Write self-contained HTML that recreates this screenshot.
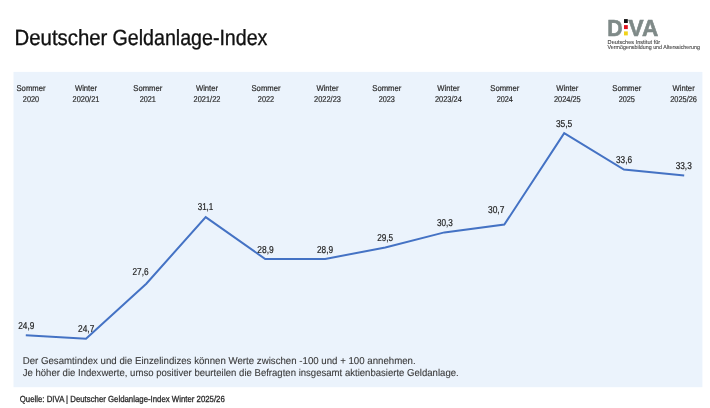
<!DOCTYPE html>
<html lang="de"><head><meta charset="utf-8"><title>Deutscher Geldanlage-Index</title>
<style>
html,body{margin:0;padding:0;background:#fff;width:710px;height:408px;overflow:hidden}
svg{display:block;font-family:"Liberation Sans",Arial,sans-serif;text-rendering:geometricPrecision}
</style></head><body>
<svg width="710" height="408" viewBox="0 0 710 408">
<rect x="13.5" y="71.9" width="688.9" height="315.3" fill="#EBF3FC"/>
<text x="14.60" y="44.50" font-size="22" fill="#111" font-weight="normal" textLength="92.80" lengthAdjust="spacingAndGlyphs" stroke="#111" stroke-width="0.35">Deutscher</text>
<text x="112.60" y="44.50" font-size="22" fill="#111" font-weight="normal" textLength="154.80" lengthAdjust="spacingAndGlyphs" stroke="#111" stroke-width="0.35">Geldanlage-Index</text>
<text transform="translate(607.25,35.7) scale(0.92,1)" font-size="23.2" font-weight="bold" fill="#7f8a88" stroke="#7f8a88" stroke-width="0.6">D</text>
<text transform="translate(628.5,35.7) scale(0.975,1)" font-size="23.2" font-weight="bold" fill="#7f8a88" stroke="#7f8a88" stroke-width="0.6">VA</text>
<rect x="624" y="19.1" width="3.8" height="3.9" fill="#111"/>
<rect x="624" y="25.1" width="3.8" height="4.0" fill="#e0141e"/>
<rect x="624" y="31.4" width="3.8" height="4.0" fill="#f1d31a"/>
<text x="607.60" y="43.50" font-size="5.7" fill="#4a4a4a" font-weight="normal" textLength="52.60" lengthAdjust="spacingAndGlyphs" stroke="#4a4a4a" stroke-width="0.12">Deutsches Institut für</text>
<text x="607.60" y="49.10" font-size="5.7" fill="#4a4a4a" font-weight="normal" textLength="92.30" lengthAdjust="spacingAndGlyphs" stroke="#4a4a4a" stroke-width="0.12">Vermögensbildung und Alterssicherung</text>
<text x="16.50" y="91.00" font-size="8.4" fill="#2b2b2b" font-weight="normal" textLength="29.00" lengthAdjust="spacingAndGlyphs" stroke="#2b2b2b" stroke-width="0.2">Sommer</text>
<text x="22.85" y="101.90" font-size="8.4" fill="#2b2b2b" font-weight="normal" textLength="16.30" lengthAdjust="spacingAndGlyphs" stroke="#2b2b2b" stroke-width="0.2">2020</text>
<text x="74.90" y="91.00" font-size="8.4" fill="#2b2b2b" font-weight="normal" textLength="22.20" lengthAdjust="spacingAndGlyphs" stroke="#2b2b2b" stroke-width="0.2">Winter</text>
<text x="72.60" y="101.90" font-size="8.4" fill="#2b2b2b" font-weight="normal" textLength="26.80" lengthAdjust="spacingAndGlyphs" stroke="#2b2b2b" stroke-width="0.2">2020/21</text>
<text x="133.30" y="91.00" font-size="8.4" fill="#2b2b2b" font-weight="normal" textLength="29.00" lengthAdjust="spacingAndGlyphs" stroke="#2b2b2b" stroke-width="0.2">Sommer</text>
<text x="139.65" y="101.90" font-size="8.4" fill="#2b2b2b" font-weight="normal" textLength="16.30" lengthAdjust="spacingAndGlyphs" stroke="#2b2b2b" stroke-width="0.2">2021</text>
<text x="195.90" y="91.00" font-size="8.4" fill="#2b2b2b" font-weight="normal" textLength="22.20" lengthAdjust="spacingAndGlyphs" stroke="#2b2b2b" stroke-width="0.2">Winter</text>
<text x="193.60" y="101.90" font-size="8.4" fill="#2b2b2b" font-weight="normal" textLength="26.80" lengthAdjust="spacingAndGlyphs" stroke="#2b2b2b" stroke-width="0.2">2021/22</text>
<text x="251.50" y="91.00" font-size="8.4" fill="#2b2b2b" font-weight="normal" textLength="29.00" lengthAdjust="spacingAndGlyphs" stroke="#2b2b2b" stroke-width="0.2">Sommer</text>
<text x="257.85" y="101.90" font-size="8.4" fill="#2b2b2b" font-weight="normal" textLength="16.30" lengthAdjust="spacingAndGlyphs" stroke="#2b2b2b" stroke-width="0.2">2022</text>
<text x="316.40" y="91.00" font-size="8.4" fill="#2b2b2b" font-weight="normal" textLength="22.20" lengthAdjust="spacingAndGlyphs" stroke="#2b2b2b" stroke-width="0.2">Winter</text>
<text x="314.10" y="101.90" font-size="8.4" fill="#2b2b2b" font-weight="normal" textLength="26.80" lengthAdjust="spacingAndGlyphs" stroke="#2b2b2b" stroke-width="0.2">2022/23</text>
<text x="372.30" y="91.00" font-size="8.4" fill="#2b2b2b" font-weight="normal" textLength="29.00" lengthAdjust="spacingAndGlyphs" stroke="#2b2b2b" stroke-width="0.2">Sommer</text>
<text x="378.65" y="101.90" font-size="8.4" fill="#2b2b2b" font-weight="normal" textLength="16.30" lengthAdjust="spacingAndGlyphs" stroke="#2b2b2b" stroke-width="0.2">2023</text>
<text x="437.30" y="91.00" font-size="8.4" fill="#2b2b2b" font-weight="normal" textLength="22.20" lengthAdjust="spacingAndGlyphs" stroke="#2b2b2b" stroke-width="0.2">Winter</text>
<text x="435.00" y="101.90" font-size="8.4" fill="#2b2b2b" font-weight="normal" textLength="26.80" lengthAdjust="spacingAndGlyphs" stroke="#2b2b2b" stroke-width="0.2">2023/24</text>
<text x="490.30" y="91.00" font-size="8.4" fill="#2b2b2b" font-weight="normal" textLength="29.00" lengthAdjust="spacingAndGlyphs" stroke="#2b2b2b" stroke-width="0.2">Sommer</text>
<text x="496.65" y="101.90" font-size="8.4" fill="#2b2b2b" font-weight="normal" textLength="16.30" lengthAdjust="spacingAndGlyphs" stroke="#2b2b2b" stroke-width="0.2">2024</text>
<text x="556.20" y="91.00" font-size="8.4" fill="#2b2b2b" font-weight="normal" textLength="22.20" lengthAdjust="spacingAndGlyphs" stroke="#2b2b2b" stroke-width="0.2">Winter</text>
<text x="553.90" y="101.90" font-size="8.4" fill="#2b2b2b" font-weight="normal" textLength="26.80" lengthAdjust="spacingAndGlyphs" stroke="#2b2b2b" stroke-width="0.2">2024/25</text>
<text x="612.30" y="91.00" font-size="8.4" fill="#2b2b2b" font-weight="normal" textLength="29.00" lengthAdjust="spacingAndGlyphs" stroke="#2b2b2b" stroke-width="0.2">Sommer</text>
<text x="618.65" y="101.90" font-size="8.4" fill="#2b2b2b" font-weight="normal" textLength="16.30" lengthAdjust="spacingAndGlyphs" stroke="#2b2b2b" stroke-width="0.2">2025</text>
<text x="672.50" y="91.00" font-size="8.4" fill="#2b2b2b" font-weight="normal" textLength="22.20" lengthAdjust="spacingAndGlyphs" stroke="#2b2b2b" stroke-width="0.2">Winter</text>
<text x="670.20" y="101.90" font-size="8.4" fill="#2b2b2b" font-weight="normal" textLength="26.80" lengthAdjust="spacingAndGlyphs" stroke="#2b2b2b" stroke-width="0.2">2025/26</text>
<polyline points="25.8,335.3 86,338.8 146.3,283.7 205.7,217.1 265.2,259 325.2,259 385.3,247.4 444.4,232.4 504.3,224.6 564.2,133.2 623.9,169.5 684.2,175.4" fill="none" stroke="#4472C4" stroke-width="2" stroke-linejoin="miter"/>
<text x="18.30" y="328.80" font-size="10.0" fill="#222" font-weight="normal" textLength="16.00" lengthAdjust="spacingAndGlyphs" stroke="#222" stroke-width="0.2">24,9</text>
<text x="78.10" y="332.20" font-size="10.0" fill="#222" font-weight="normal" textLength="16.20" lengthAdjust="spacingAndGlyphs" stroke="#222" stroke-width="0.2">24,7</text>
<text x="132.45" y="275.30" font-size="10.0" fill="#222" font-weight="normal" textLength="16.10" lengthAdjust="spacingAndGlyphs" stroke="#222" stroke-width="0.2">27,6</text>
<text x="197.65" y="210.20" font-size="10.0" fill="#222" font-weight="normal" textLength="15.70" lengthAdjust="spacingAndGlyphs" stroke="#222" stroke-width="0.2">31,1</text>
<text x="257.30" y="252.70" font-size="10.0" fill="#222" font-weight="normal" textLength="16.40" lengthAdjust="spacingAndGlyphs" stroke="#222" stroke-width="0.2">28,9</text>
<text x="316.95" y="252.70" font-size="10.0" fill="#222" font-weight="normal" textLength="16.10" lengthAdjust="spacingAndGlyphs" stroke="#222" stroke-width="0.2">28,9</text>
<text x="377.15" y="241.20" font-size="10.0" fill="#222" font-weight="normal" textLength="15.90" lengthAdjust="spacingAndGlyphs" stroke="#222" stroke-width="0.2">29,5</text>
<text x="436.95" y="225.70" font-size="10.0" fill="#222" font-weight="normal" textLength="15.90" lengthAdjust="spacingAndGlyphs" stroke="#222" stroke-width="0.2">30,3</text>
<text x="488.00" y="213.10" font-size="10.0" fill="#222" font-weight="normal" textLength="16.40" lengthAdjust="spacingAndGlyphs" stroke="#222" stroke-width="0.2">30,7</text>
<text x="555.90" y="126.90" font-size="10.0" fill="#222" font-weight="normal" textLength="16.40" lengthAdjust="spacingAndGlyphs" stroke="#222" stroke-width="0.2">35,5</text>
<text x="615.95" y="163.00" font-size="10.0" fill="#222" font-weight="normal" textLength="16.10" lengthAdjust="spacingAndGlyphs" stroke="#222" stroke-width="0.2">33,6</text>
<text x="675.65" y="168.60" font-size="10.0" fill="#222" font-weight="normal" textLength="16.10" lengthAdjust="spacingAndGlyphs" stroke="#222" stroke-width="0.2">33,3</text>
<text x="22.70" y="363.60" font-size="10" fill="#3a3a3a" font-weight="normal" textLength="393.00" lengthAdjust="spacingAndGlyphs" stroke="#3a3a3a" stroke-width="0.1">Der Gesamtindex und die Einzelindizes können Werte zwischen -100 und + 100 annehmen.</text>
<text x="22.70" y="376.30" font-size="10" fill="#3a3a3a" font-weight="normal" textLength="436.00" lengthAdjust="spacingAndGlyphs" stroke="#3a3a3a" stroke-width="0.1">Je höher die Indexwerte, umso positiver beurteilen die Befragten insgesamt aktienbasierte Geldanlage.</text>
<text x="19.80" y="402.10" font-size="8.9" fill="#2b2b2b" font-weight="normal" textLength="205.00" lengthAdjust="spacingAndGlyphs" stroke="#2b2b2b" stroke-width="0.3">Quelle: DIVA | Deutscher Geldanlage-Index Winter 2025/26</text>
</svg>
</body></html>
